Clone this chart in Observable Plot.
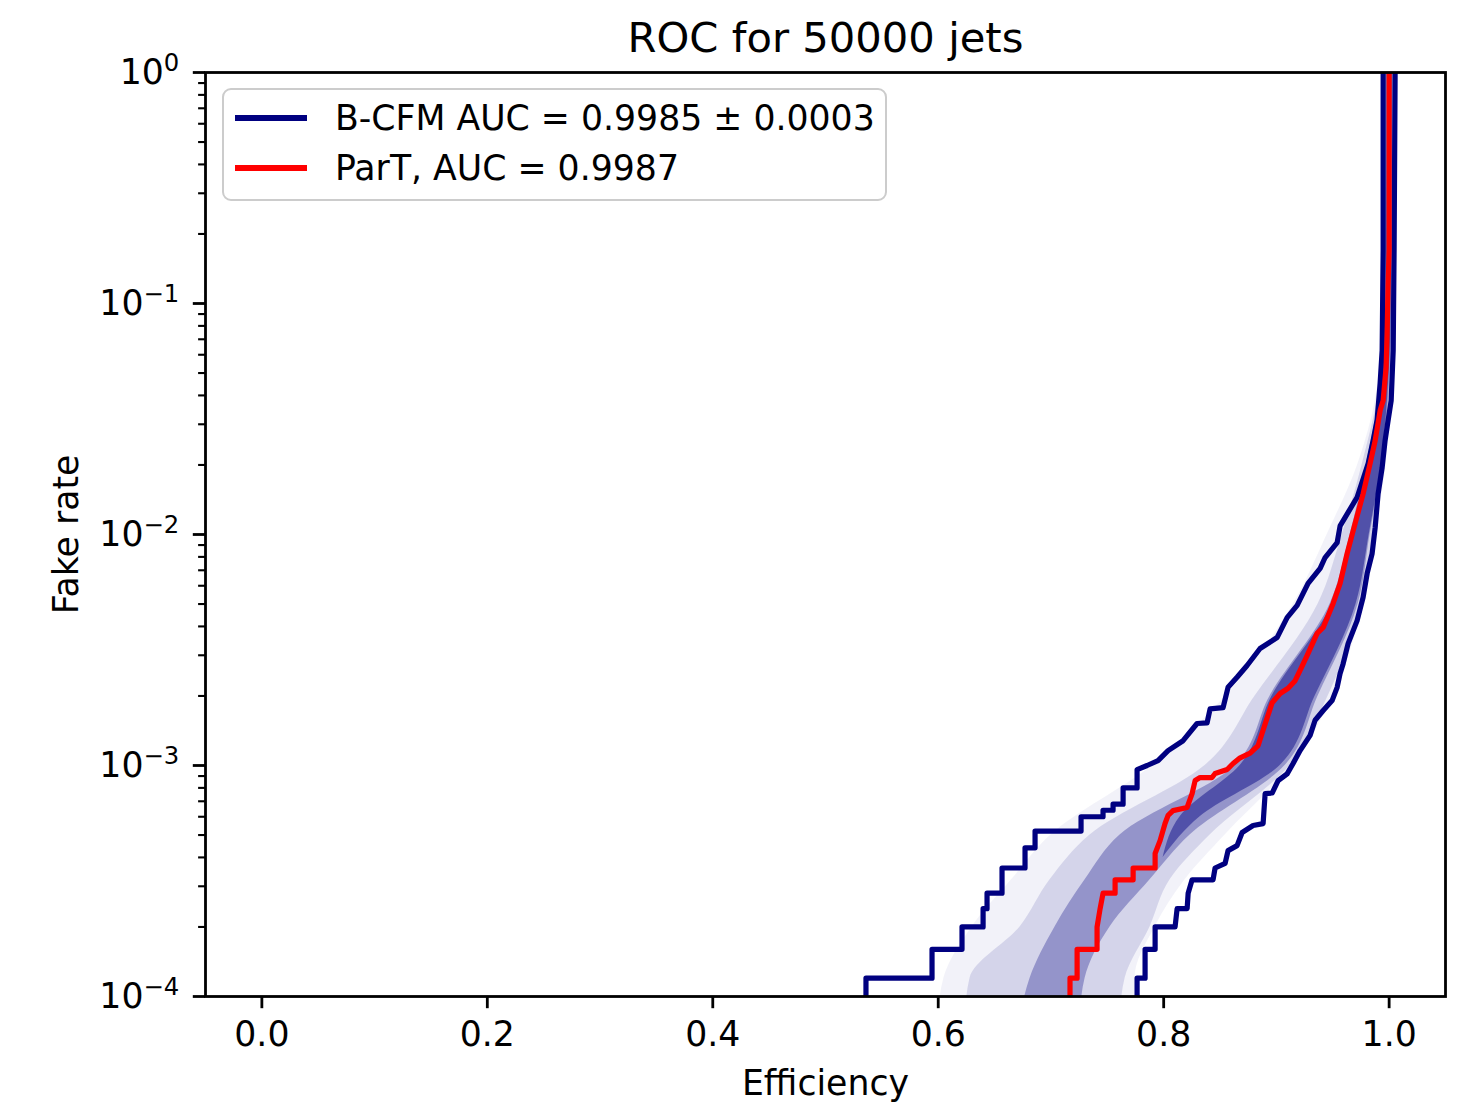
<!DOCTYPE html>
<html>
<head>
<meta charset="utf-8">
<script src="https://cdn.jsdelivr.net/npm/d3@7"></script>
<script src="https://cdn.jsdelivr.net/npm/@observablehq/plot@0.6"></script>
<style>
  body { margin: 0; background: #fff; }
  #wrap { position: relative; width: 1465px; height: 1103px; font-family: "DejaVu Sans"; }
  #wrap svg { display: block; }
  #legend { position: absolute; left: 222px; top: 88px; width: 665px; height: 113px; box-sizing: border-box;
            border: 2.7px solid #cccccc; border-radius: 9px; background: rgba(255,255,255,0.8); }
  .lg-line { position: absolute; left: 235px; width: 72px; height: 5.2px; }
  .lg-text { position: absolute; left: 335px; font-size: 34.7px; line-height: 34.7px; white-space: nowrap; color: #000; }
</style>
</head>
<body>
<div id="wrap"></div>
<script>
// ---------- text ----------
const title = "ROC for 50000 jets";
const xLabel = "Efficiency";
const yLabel = "Fake rate";
const seriesNames = ["B-CFM AUC = 0.9985 ± 0.0003", "ParT, AUC = 0.9987"];
const seriesColors = ["#000080", "#ff0000"];

// ---------- ticks ----------
const xTicks = [0, 0.2, 0.4, 0.6, 0.8, 1.0];
const yTicks = [1e-4, 1e-3, 1e-2, 1e-1, 1];
const yTickLabels = ["10^−4", "10^−3", "10^−2", "10^−1", "10^0"];
const yMinorTicks = [2e-4, 3e-4, 4e-4, 5e-4, 6e-4, 7e-4, 8e-4, 9e-4,
                     2e-3, 3e-3, 4e-3, 5e-3, 6e-3, 7e-3, 8e-3, 9e-3,
                     2e-2, 3e-2, 4e-2, 5e-2, 6e-2, 7e-2, 8e-2, 9e-2,
                     0.2, 0.3, 0.4, 0.5, 0.6, 0.7, 0.8, 0.9];

// ---------- curves: [efficiency, fake rate] ----------
// B-CFM ensemble outer envelope (worst curve)
const bcfmWorst = [[0.5359,8e-5],[0.5359,1.2e-4],[0.5945,1.2e-4],[0.5945,1.6e-4],[0.6211,1.6e-4],[0.6211,2.0e-4],
  [0.6398,2.0e-4],[0.6398,2.4e-4],[0.6433,2.4e-4],[0.6433,2.8e-4],[0.6566,2.8e-4],[0.6566,3.6e-4],[0.6770,3.6e-4],
  [0.6770,4.4e-4],[0.6859,4.4e-4],[0.6859,5.2e-4],[0.7267,5.2e-4],[0.7267,6.0e-4],[0.7462,6.0e-4],[0.7462,6.4e-4],
  [0.7551,6.4e-4],[0.7551,6.8e-4],[0.7640,6.8e-4],[0.7640,8.0e-4],[0.7764,8.0e-4],[0.7764,9.6e-4],[0.7853,1.0e-3],
  [0.7950,1.05e-3],[0.8039,1.16e-3],[0.8172,1.28e-3],[0.8296,1.52e-3],[0.8385,1.53e-3],[0.8412,1.76e-3],[0.8527,1.78e-3],
  [0.8571,2.18e-3],[0.8651,2.41e-3],[0.8740,2.71e-3],[0.8855,3.21e-3],[0.9006,3.58e-3],[0.9095,4.37e-3],[0.9184,4.93e-3],
  [0.9281,6.14e-3],[0.9388,7.13e-3],[0.9432,7.95e-3],[0.9539,9.23e-3],[0.9565,1.09e-2],[0.9716,1.45e-2],[0.9814,2.03e-2],
  [0.9858,2.55e-2],[0.9893,3.12e-2],[0.9920,4.51e-2],[0.9938,6.26e-2],[0.9947,0.169],[0.9947,1]];
// B-CFM ensemble outer envelope (best curve)
const bcfmBest = [[0.7764,8e-5],[0.7764,1.2e-4],[0.7835,1.2e-4],[0.7835,1.6e-4],[0.7924,1.6e-4],[0.7924,2.0e-4],
  [0.8101,2.0e-4],[0.8119,2.4e-4],[0.8208,2.4e-4],[0.8217,2.8e-4],[0.8252,3.2e-4],[0.8438,3.2e-4],[0.8456,3.6e-4],
  [0.8545,3.77e-4],[0.8571,4.28e-4],[0.8651,4.5e-4],[0.8696,5.13e-4],[0.8793,5.5e-4],[0.8882,5.6e-4],[0.8900,7.56e-4],
  [0.8962,7.6e-4],[0.9015,8.6e-4],[0.9095,9.2e-4],[0.9148,1.02e-3],[0.9210,1.16e-3],[0.9299,1.35e-3],[0.9343,1.57e-3],
  [0.9415,1.73e-3],[0.9494,1.91e-3],[0.9539,2.18e-3],[0.9565,2.50e-3],[0.9592,2.76e-3],[0.9636,3.37e-3],[0.9716,4.24e-3],
  [0.9769,5.34e-3],[0.9805,6.78e-3],[0.9849,8.27e-3],[0.9876,1.07e-2],[0.9902,1.50e-2],[0.9938,1.95e-2],[0.9964,2.55e-2],
  [0.9991,3.12e-2],[1.0018,3.80e-2],[1.0036,6.26e-2],[1.0044,0.170],[1.0053,1]];
// ParT
const partCurve = [[0.7169,8e-5],[0.7169,1.2e-4],[0.7232,1.2e-4],[0.7232,1.6e-4],[0.7409,1.6e-4],[0.7409,2.0e-4],
  [0.7436,2.4e-4],[0.7462,2.8e-4],[0.7569,2.8e-4],[0.7569,3.2e-4],[0.7729,3.2e-4],[0.7729,3.6e-4],[0.7924,3.6e-4],
  [0.7924,4.16e-4],[0.7968,4.73e-4],[0.8012,5.61e-4],[0.8039,6.08e-4],[0.8083,6.38e-4],[0.8208,6.58e-4],[0.8252,7.56e-4],
  [0.8279,8.61e-4],[0.8323,8.87e-4],[0.8429,8.87e-4],[0.8456,9.23e-4],[0.8563,9.61e-4],[0.8616,1.02e-3],[0.8678,1.08e-3],
  [0.8767,1.13e-3],[0.8838,1.22e-3],[0.8873,1.38e-3],[0.8918,1.61e-3],[0.8962,1.87e-3],[0.9033,2.05e-3],[0.9104,2.16e-3],
  [0.9166,2.33e-3],[0.9210,2.58e-3],[0.9272,2.99e-3],[0.9361,3.73e-3],[0.9415,3.96e-3],[0.9503,5.03e-3],[0.9565,6.14e-3],
  [0.9627,8.27e-3],[0.9681,1.04e-2],[0.9769,1.50e-2],[0.9831,2.03e-2],[0.9876,2.55e-2],[0.9920,3.44e-2],[0.9947,3.80e-2],
  [0.9973,5.28e-2],[0.9982,7.41e-2],[0.9991,0.122],[1.0000,0.170],[1.0000,1]];

// B-CFM ensemble spread (efficiency ranges at given fake rates)
const bandFake = [8e-5, 1.2e-4, 2e-4, 3.2e-4, 5e-4, 1e-3, 2e-3, 5e-3, 1e-2, 2e-2, 5e-2, 0.1, 1];
const hazeLo = [0.600, 0.605, 0.630, 0.665, 0.700, 0.790, 0.855, 0.915, 0.945, 0.972, 0.9911, 0.9938, 0.9938];
const hazeHi = [0.7746, 0.7746, 0.7924, 0.8190, 0.8545, 0.9139, 0.9503, 0.9769, 0.9876, 0.9973, 1.0018, 1.0036, 1.0044];
const midLo  = [0.6238, 0.6282, 0.6726, 0.6992, 0.7347, 0.8367, 0.8811, 0.9370, 0.9583, 0.9760, 0.9929, 0.9956, 0.9964];
const midHi  = [0.7613, 0.7658, 0.7879, 0.8057, 0.8412, 0.9122, 0.9459, 0.9760, 0.9858, 0.9956, 1.0018, 1.0036, 1.0044];
const coreLo = [0.6726, 0.6815, 0.7036, 0.7303, 0.7613, 0.8634, 0.8944, 0.9476, 0.9654, 0.9796, 0.9938, 0.9964, 0.9973];
const coreHi = [0.7258, 0.7303, 0.7524, 0.7879, 0.8234, 0.9077, 0.9370, 0.9725, 0.9831, 0.9938, 1.0009, 1.0027, 1.0036];
// densest part of the spread (upper region)
const denseFake = [4e-4, 6e-4, 1e-3, 2e-3, 5e-3, 1e-2, 2e-2, 5e-2, 0.1, 1];
const denseLo = [0.7995, 0.8146, 0.8678, 0.8962, 0.9494, 0.9672, 0.9805, 0.9947, 0.9973, 0.9982];
const denseHi = [0.7995, 0.8323, 0.9033, 0.9344, 0.9707, 0.9823, 0.9929, 1.0000, 1.0018, 1.0027];

// ---------- build ----------
const bandRows = bandFake.map((f, i) => ({f, hazeLo: hazeLo[i], hazeHi: hazeHi[i], midLo: midLo[i], midHi: midHi[i], coreLo: coreLo[i], coreHi: coreHi[i]}));
const denseRows = denseFake.map((f, i) => ({f, lo: denseLo[i], hi: denseHi[i]}));
const yLabelMap = new Map(yTicks.map((v, i) => [v, yTickLabels[i]]));
const FS = 34.7;
const navy = seriesColors[0];

const chart = Plot.plot({
  width: 1465, height: 1103,
  marginLeft: 205, marginRight: 20, marginTop: 72, marginBottom: 107,
  style: {fontFamily: "DejaVu Sans", fontSize: FS + "px", background: "white", color: "black", overflow: "visible"},
  x: {domain: [-0.05, 1.05]},
  y: {type: "log", domain: [1e-4, 1]},
  marks: [
    Plot.areaX(bandRows, {y: "f", x1: "hazeLo", x2: "hazeHi", fill: navy, fillOpacity: 0.05, curve: "monotone-y", clip: true}),
    Plot.areaX(bandRows, {y: "f", x1: "midLo", x2: "midHi", fill: navy, fillOpacity: 0.12, curve: "monotone-y", clip: true}),
    Plot.areaX(bandRows, {y: "f", x1: "coreLo", x2: "coreHi", fill: navy, fillOpacity: 0.3, curve: "monotone-y", clip: true}),
    Plot.areaX(denseRows, {y: "f", x1: "lo", x2: "hi", fill: navy, fillOpacity: 0.45, curve: "monotone-y", clip: true}),
    Plot.line(bcfmWorst, {x: d => d[0], y: d => d[1], stroke: navy, strokeWidth: 5.2, strokeLinejoin: "round", clip: true}),
    Plot.line(bcfmBest, {x: d => d[0], y: d => d[1], stroke: navy, strokeWidth: 5.2, strokeLinejoin: "round", clip: true}),
    Plot.line(partCurve, {x: d => d[0], y: d => d[1], stroke: seriesColors[1], strokeWidth: 5.2, strokeLinejoin: "round", clip: true}),
    Plot.frame({stroke: "black", strokeWidth: 2.8}),
    Plot.axisX(xTicks, {tickSize: 12.2, tickPadding: 12.2, tickFormat: d3.format(".1f"), strokeWidth: 2.8, label: null, fontSize: FS}),
    Plot.axisY(yTicks, {tickSize: 12.2, tickPadding: 14, tickFormat: d => yLabelMap.get(d), strokeWidth: 2.8, label: null, fontSize: FS}),
    Plot.axisY(yMinorTicks, {tickSize: 6.9, tickFormat: () => "", strokeWidth: 2.1, label: null}),
    Plot.text([xLabel], {frameAnchor: "bottom", dy: 87, lineAnchor: "middle", textAnchor: "middle", fontSize: FS}),
    Plot.text([yLabel], {frameAnchor: "left", dx: -139, rotate: -90, lineAnchor: "middle", textAnchor: "middle", fontSize: FS}),
    Plot.text([title], {frameAnchor: "top", dy: -34, lineAnchor: "middle", textAnchor: "middle", fontSize: 41.7})
  ]
});

// superscript exponents on the log-axis labels
const NS = "http://www.w3.org/2000/svg";
chart.querySelectorAll('g[aria-label="y-axis tick label"] text').forEach(t => {
  const s = t.textContent;
  if (!s.includes("^")) return;
  const [base, exp] = s.split("^");
  t.textContent = "";
  const b = document.createElementNS(NS, "tspan");
  b.textContent = base;
  const e = document.createElementNS(NS, "tspan");
  e.textContent = exp;
  e.setAttribute("font-size", (FS * 0.7).toFixed(1));
  e.setAttribute("dy", "-13");
  t.append(b, e);
});

const wrap = document.getElementById("wrap");
wrap.append(chart);

// legend
const legend = document.createElement("div");
legend.id = "legend";
wrap.append(legend);
const rowY = [118, 168];
seriesNames.forEach((name, i) => {
  const ln = document.createElement("div");
  ln.className = "lg-line";
  ln.style.top = (rowY[i] - 2.6) + "px";
  ln.style.background = seriesColors[i];
  wrap.append(ln);
  const tx = document.createElement("div");
  tx.className = "lg-text";
  tx.style.top = (rowY[i] - 16.7) + "px";
  tx.textContent = name;
  wrap.append(tx);
});
</script>
</body>
</html>
